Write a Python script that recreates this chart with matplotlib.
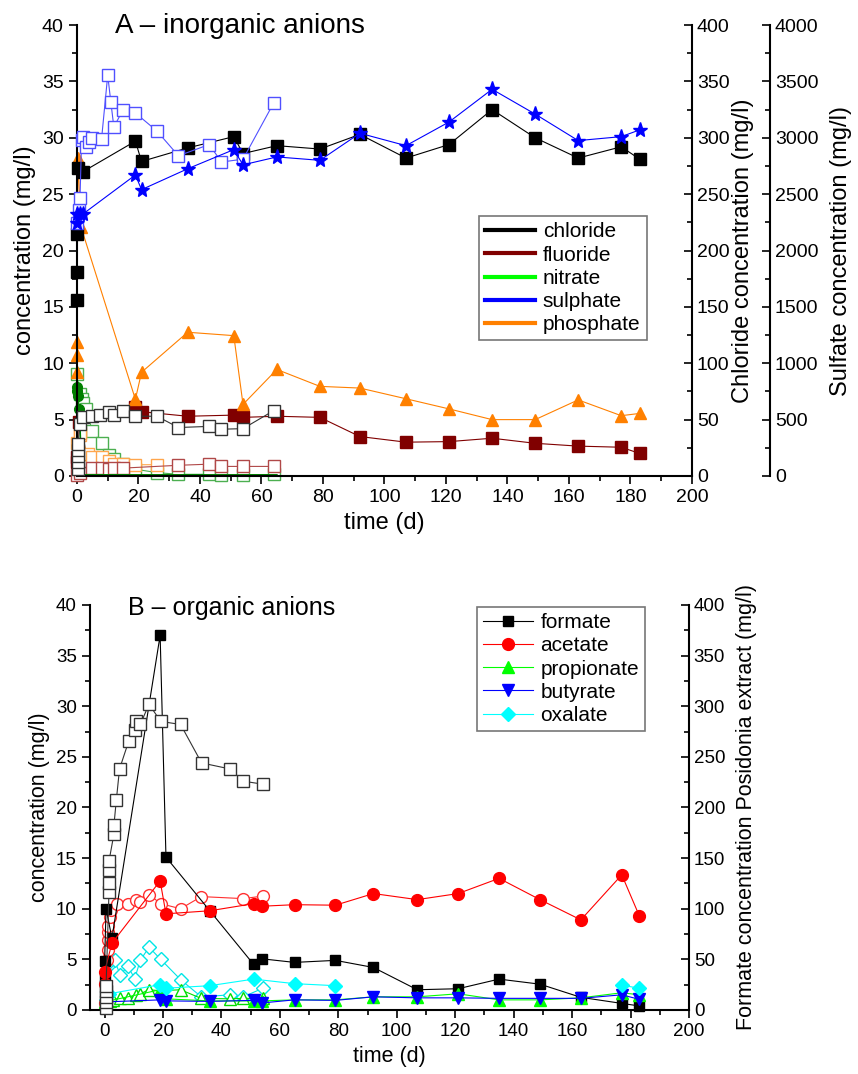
import matplotlib
matplotlib.use('Agg')
import matplotlib.pyplot as plt
import numpy as np
from matplotlib.lines import Line2D
from matplotlib.ticker import MultipleLocator

plt.rcParams['font.family'] = ['Liberation Sans', 'DejaVu Sans']

# ---------------- panel A: inorganic anions ----------------
# chloride (mg/l, right axis 0-400)
cl_t = [0, 0, 0, 0.2, 2, 19, 21, 36, 51, 54, 65, 79, 92, 107, 121, 135, 149, 163, 177, 183]
cl_c = [156, 181, 215, 273, 270, 297, 279, 291, 301, 286, 293, 290, 303, 282, 294, 325, 300, 282, 292, 281]
cl_pos_t = [0.3, 0.3, 0.3, 0.3, 0.3, 1, 2, 5, 7.5, 10.5, 12, 15, 19, 26, 33, 43, 47, 54, 64]
cl_pos_c = [6, 12, 18, 23, 28, 46, 52, 53, 54, 57, 54, 58, 53, 53, 43, 44, 41.5, 42, 58]

# sulphate (mg/l, right axis 0-4000)
so4_t = [0, 0, 1, 2, 19, 21, 36, 51, 54, 65, 79, 92, 107, 121, 135, 149, 163, 177, 183]
so4_c = [2240, 2320, 2320, 2325, 2670, 2540, 2725, 2895, 2760, 2830, 2800, 3040, 2930, 3140,
         3430, 3210, 2975, 3010, 3070]
so4_pos_t = [0, 0.5, 1, 1.5, 2, 3, 4, 5, 8, 10, 11, 12, 15, 19, 26, 33, 43, 47, 54, 64]
so4_pos_c = [2240, 2360, 2470, 2980, 3010, 2920, 2960, 3000, 2990, 3555, 3320, 3095, 3250,
             3220, 3060, 2840, 2940, 2785, 2810, 3310]

# fluoride (mg/l, left axis)
f_t = [0, 0, 0.5, 19, 21, 36, 51, 54, 65, 79, 92, 107, 121, 135, 149, 163, 177, 183]
f_c = [1.2, 1.7, 4.8, 6.1, 5.7, 5.3, 5.4, 5.2, 5.3, 5.2, 3.5, 3.0, 3.05, 3.35, 2.9, 2.65, 2.55, 2.0]
f_pos_t = [0, 1, 5, 8, 10.5, 12, 15, 33, 43, 47, 54, 64]
f_pos_c = [0.05, 0.3, 0.75, 0.75, 0.6, 0.7, 0.7, 0.95, 1.05, 0.85, 0.85, 0.85]

# nitrate
no3_t = [0, 0.1, 0.2, 0.8, 1.5, 19, 21, 36, 51, 54, 65]
no3_c = [7.9, 7.5, 7.1, 5.9, 0.1, 0.1, 0.1, 0.1, 0.1, 0.1, 0.1]
no3_pos_t = [0, 1, 1.5, 2, 3, 5, 8, 10.5, 12, 15, 19, 26, 33, 43, 47, 54, 64]
no3_pos_c = [9.05, 7.3, 6.8, 6.5, 5.9, 4.0, 2.9, 1.9, 1.5, 1.05, 0.6, 0.3, 0.15, 0.15, 0.05, 0.05, 0.15]

# phosphate
po4_t = [0, 0, 0, 0.3, 1.3, 19, 21, 36, 51, 54, 65, 79, 92, 107, 121, 135, 149, 163, 177, 183]
po4_c = [9.2, 10.7, 11.9, 28.2, 22.1, 6.8, 9.2, 12.75, 12.45, 6.35, 9.45, 7.95, 7.8, 6.85,
         5.95, 5.0, 5.0, 6.75, 5.35, 5.55]
po4_pos_t = [0, 1, 1, 3.5, 5, 8, 10.5, 12, 15, 19, 26]
po4_pos_c = [2.9, 3.6, 3.8, 1.95, 1.65, 1.65, 1.3, 1.1, 1.05, 1.0, 1.0]

legend_a_names = ['chloride', 'fluoride', 'nitrate', 'sulphate', 'phosphate']
legend_a_colors = ['black', '#800000', '#00ff00', '#0000ff', '#ff8000']

# ---------------- panel B: organic anions ----------------
form_t = [0, 0, 0.5, 2.5, 19, 21, 36, 51, 54, 65, 79, 92, 107, 121, 135, 149, 163, 177, 183]
form_c = [3.0, 4.8, 10.0, 7.1, 37.0, 15.1, 9.8, 4.5, 5.05, 4.7, 4.9, 4.2, 2.0, 2.1, 3.05, 2.55,
          1.25, 0.65, 0.4]
# formate Posidonia extract (right axis, mg/l)
form_pos_t = [0.5, 0.5, 0.5, 0.5, 0.5, 1.5, 1.5, 1.5, 1.5, 3.2, 3.2, 4, 5.1, 8.3, 10.3, 10.8,
              12.2, 15.2, 19.2, 26, 33.2, 43, 47.4, 54.2]
form_pos_c = [2, 8, 13, 19, 24, 117, 125, 138, 147, 174, 183, 207, 238, 266, 277, 285, 282,
              302, 285, 282, 244, 238, 226, 223]

acet_t = [0, 0, 2.5, 19, 21, 36, 51, 54, 65, 79, 92, 107, 121, 135, 149, 163, 177, 183]
acet_c = [2.6, 3.8, 6.6, 12.75, 9.5, 9.8, 10.5, 10.25, 10.4, 10.35, 11.5, 10.9, 11.5, 13.0,
          10.9, 8.9, 13.35, 9.3]
acet_pos_t = [0, 0.8, 1, 1, 1, 1, 1.7, 2.3, 4.2, 8, 10.6, 12.2, 15.2, 19.2, 26, 33.1, 47.4, 54.2]
acet_pos_c = [0.7, 4.9, 5.9, 6.9, 7.7, 8.3, 9.2, 9.9, 10.5, 10.5, 10.9, 10.7, 11.4, 10.5, 10.0,
              11.2, 11.0, 11.25]

prop_t = [0, 19, 21, 36, 51, 54, 65, 79, 92, 107, 121, 135, 149, 163, 177, 183]
prop_c = [0.8, 2.0, 1.1, 0.9, 0.9, 0.9, 1.0, 1.0, 1.3, 1.3, 1.6, 1.0, 1.0, 1.2, 1.7, 1.5]
prop_pos_t = [1.7, 3, 5.1, 8, 10.6, 12.2, 15.2, 19.2, 26, 33, 43, 47.4, 54.2]
prop_pos_c = [0.9, 1.0, 1.15, 1.15, 1.5, 1.6, 2.0, 1.9, 2.0, 1.15, 1.1, 1.15, 1.15]

buty_t = [0.5, 19, 21, 36, 51, 54, 65, 79, 92, 107, 121, 135, 149, 163, 177, 183]
buty_c = [0.8, 1.0, 0.9, 0.85, 0.95, 0.7, 1.0, 0.95, 1.3, 1.2, 1.2, 1.15, 1.15, 1.15, 1.5, 1.05]

oxal_t = [1.5, 19, 21, 36, 51, 65, 79, 107, 177, 183]
oxal_c = [1.6, 2.5, 2.15, 2.4, 3.05, 2.6, 2.4, np.nan, 2.45, 2.15]
oxal_pos_t = [0.5, 1, 2, 3.4, 5.3, 8, 10.3, 12.2, 15.2, 19.2, 26, 33.1, 43, 47.4, 54.2]
oxal_pos_c = [1.0, 4.3, 4.8, 4.9, 3.5, 4.3, 3.1, 4.9, 6.2, 5.0, 3.0, 1.3, 1.5, 1.3, 2.15]


def style_axis(ax, lab=14):
    ax.tick_params(which='major', length=6, width=1.2, labelsize=lab, direction='out')
    ax.tick_params(which='minor', length=3.5, width=1.2, direction='out')
    for s in ax.spines.values():
        s.set_linewidth(1.5)
    ax.spines['top'].set_visible(False)


def filled(ax, x, y, c, m, ms, lw=0.8, label=None, **kw):
    ax.plot(x, y, color=c, lw=lw, marker=m, ms=ms, mfc=c, mec=c, clip_on=False,
            label=label, **kw)


def hollow(ax, x, y, c, m, ms, lw=0.8):
    ax.plot(x, y, color=c, lw=lw, marker=m, ms=ms, mfc='white', mec=c, mew=1.0, clip_on=False)


fig = plt.figure(figsize=(8.58, 10.74), dpi=100)

# ---- A ----
ax_a = fig.add_axes([0.0897, 0.5568, 0.7168, 0.4199])
ax_cl = ax_a.twinx()
ax_so = ax_a.twinx()
ax_so.spines['right'].set_position(('axes', 1.127))

hollow(ax_a, no3_pos_t, no3_pos_c, '#4caf50', 's', 8)
hollow(ax_a, po4_pos_t, po4_pos_c, '#ffa64d', 's', 8)
hollow(ax_a, f_pos_t, f_pos_c, '#b04848', 's', 8)
ax_a.plot(no3_t, no3_c, color='#008000', lw=1.2, marker='o', ms=7, mfc='#008000',
          mec='#008000', markevery=slice(0, 4), clip_on=False)
filled(ax_a, f_t, f_c, '#800000', 's', 8)
filled(ax_a, po4_t, po4_c, '#ff8000', '^', 9)

hollow(ax_cl, cl_pos_t, cl_pos_c, '#333333', 's', 8)
filled(ax_cl, cl_t, cl_c, 'black', 's', 8)

hollow(ax_so, so4_pos_t, so4_pos_c, '#5050ff', 's', 8)
filled(ax_so, so4_t, so4_c, '#0000ff', '*', 11)

ax_a.set_xlim(0, 200)
ax_a.set_ylim(0, 40)
ax_cl.set_ylim(0, 400)
ax_so.set_ylim(0, 4000)
ax_a.xaxis.set_major_locator(MultipleLocator(20))
ax_a.xaxis.set_minor_locator(MultipleLocator(10))
ax_a.yaxis.set_major_locator(MultipleLocator(5))
ax_a.yaxis.set_minor_locator(MultipleLocator(2.5))
ax_cl.yaxis.set_major_locator(MultipleLocator(50))
ax_cl.yaxis.set_minor_locator(MultipleLocator(25))
ax_so.yaxis.set_major_locator(MultipleLocator(500))
ax_so.yaxis.set_minor_locator(MultipleLocator(250))

style_axis(ax_a)
ax_a.spines['right'].set_visible(False)
for ax in (ax_cl, ax_so):
    style_axis(ax)
    for s in ('left', 'top', 'bottom'):
        ax.spines[s].set_visible(False)
    ax.tick_params(axis='y', which='both', direction='in')

ax_a.set_xlabel('time (d)', fontsize=17)
ax_a.set_ylabel('concentration (mg/l)', fontsize=17)
ax_cl.set_ylabel('Chloride concentration (mg/l)', fontsize=17, labelpad=2)
ax_so.set_ylabel('Sulfate concentration (mg/l)', fontsize=17, labelpad=8)
ax_a.text(0.062, 0.982, 'A \u2013 inorganic anions', transform=ax_a.transAxes, fontsize=20,
          va='baseline', ha='left')

handles_a = [Line2D([], [], color=c, lw=3) for c in legend_a_colors]
leg_a = ax_so.legend(handles_a, legend_a_names, loc='upper left', bbox_to_anchor=(0.654, 0.576),
                     fontsize=15, frameon=True, fancybox=False, edgecolor='#555555',
                     handlelength=2.4, borderaxespad=0, labelspacing=0.2, handletextpad=0.35,
                     borderpad=0.3)
leg_a.get_frame().set_linewidth(1.2)

# ---- B ----
ax_b = fig.add_axes([0.1049, 0.0596, 0.6981, 0.3771])
ax_bf = ax_b.twinx()

hollow(ax_b, oxal_pos_t, oxal_pos_c, '#00e5e5', 'D', 7)
hollow(ax_b, prop_pos_t, prop_pos_c, '#00dd00', '^', 8)
hollow(ax_b, acet_pos_t, acet_pos_c, '#ff3030', 'o', 8.5)
filled(ax_b, form_t, form_c, 'black', 's', 6.5, label='formate')
filled(ax_b, acet_t, acet_c, '#ff0000', 'o', 8.5, label='acetate')
filled(ax_b, prop_t, prop_c, '#00ff00', '^', 8.5, label='propionate')
filled(ax_b, buty_t, buty_c, '#0000ff', 'v', 8.5, label='butyrate')
filled(ax_b, oxal_t, oxal_c, '#00ffff', 'D', 7.5, label='oxalate')
hollow(ax_bf, form_pos_t, form_pos_c, '#333333', 's', 8)

ax_b.set_xlim(-5, 200)
ax_b.set_ylim(0, 40)
ax_bf.set_ylim(0, 400)
ax_b.xaxis.set_major_locator(MultipleLocator(20))
ax_b.xaxis.set_minor_locator(MultipleLocator(10))
ax_b.yaxis.set_major_locator(MultipleLocator(5))
ax_b.yaxis.set_minor_locator(MultipleLocator(2.5))
ax_bf.yaxis.set_major_locator(MultipleLocator(50))
ax_bf.yaxis.set_minor_locator(MultipleLocator(25))

style_axis(ax_b, 13.5)
ax_b.spines['right'].set_visible(False)
style_axis(ax_bf, 13.5)
for s in ('left', 'top', 'bottom'):
    ax_bf.spines[s].set_visible(False)
ax_bf.tick_params(axis='y', which='both', direction='in')

ax_b.set_xlabel('time (d)', fontsize=15.5)
ax_b.set_ylabel('concentration (mg/l)', fontsize=15.5)
ax_bf.set_ylabel('Formate concentration Posidonia extract (mg/l)', fontsize=15.5, labelpad=8)
ax_b.text(0.063, 0.975, 'B \u2013 organic anions', transform=ax_b.transAxes, fontsize=18,
          va='baseline', ha='left')

h, l = ax_b.get_legend_handles_labels()
leg_b = ax_bf.legend(h, l, loc='upper left', bbox_to_anchor=(0.646, 0.995), fontsize=15,
                     frameon=True, fancybox=False, edgecolor='#555555', numpoints=1,
                     handlelength=2.4, borderaxespad=0, labelspacing=0.2, handletextpad=0.35,
                     borderpad=0.3)
leg_b.get_frame().set_linewidth(1.2)

fig.savefig('out.png', dpi=100)
